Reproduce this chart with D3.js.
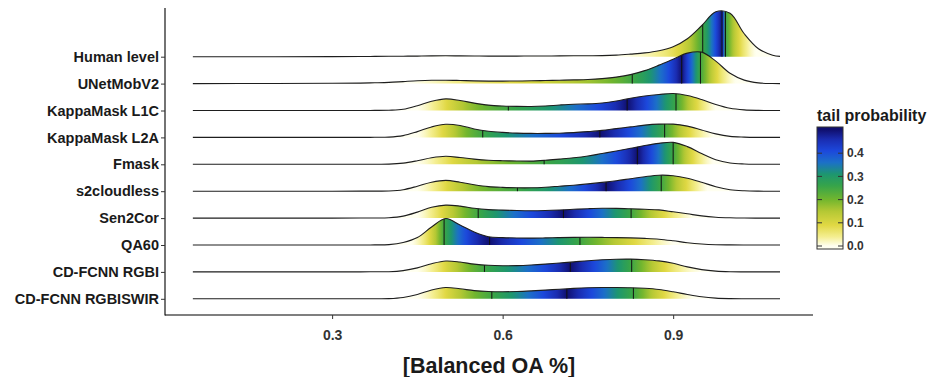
<!DOCTYPE html>
<html>
<head>
<meta charset="utf-8">
<script src="https://cdn.jsdelivr.net/npm/d3@7"></script>
<style>
  body { margin: 0; background: #fff; }
  text { font-family: "Liberation Sans", Arial, sans-serif; font-weight: bold; }
</style>
</head>
<body>
<div id="chart"></div>
<script>
// methods, top to bottom
const methods = ["Human level", "UNetMobV2", "KappaMask L1C", "KappaMask L2A", "Fmask",
    "s2cloudless", "Sen2Cor", "QA60", "CD-FCNN RGBI", "CD-FCNN RGBISWIR"];

const xGrid = [0.055, 0.2, 0.3, 0.35, 0.375, 0.4, 0.425, 0.45, 0.475, 0.5, 0.525, 0.55, 0.575,
    0.6, 0.625, 0.65, 0.675, 0.7, 0.725, 0.75, 0.775, 0.8, 0.825, 0.85, 0.875, 0.9, 0.925,
    0.95, 0.975, 1.0, 1.025, 1.05, 1.075, 1.088];

// density estimates, one array per method
const densHuman = [0,0,0.02,0.04,0.06,0.08,0.1,0.12,0.16,0.18,0.16,0.14,0.12,0.12,0.12,0.14,0.14,0.16,0.18,0.2,0.22,0.32,0.52,0.76,1.2,2.0,3.6,6.2,9.0,8.7,4.6,1.6,0.3,0.06];
const densUNet = [0,0.02,0.06,0.1,0.16,0.24,0.4,0.56,0.66,0.68,0.62,0.54,0.5,0.5,0.52,0.56,0.62,0.68,0.74,0.82,1.0,1.3,1.8,2.6,3.7,4.9,6.1,6.3,4.5,2.06,0.7,0.14,0.02,0];
const densKappaL1C = [0,0,0,0.01,0.02,0.06,0.24,0.96,1.84,2.32,2.0,1.48,1.08,0.9,0.82,0.8,0.9,1.1,1.26,1.32,1.5,1.9,2.46,2.9,3.2,3.4,3.0,2.2,1.2,0.44,0.12,0.02,0,0];
const densKappaL2A = [0,0,0,0.01,0.02,0.06,0.36,1.16,2.1,2.64,2.4,1.7,1.24,1.0,0.86,0.8,0.8,0.84,0.96,1.16,1.4,1.76,2.1,2.46,2.66,2.66,2.26,1.5,0.7,0.2,0.06,0.01,0,0];
const densFmask = [0,0,0,0.01,0.02,0.04,0.24,0.72,1.3,1.6,1.36,1.04,0.82,0.72,0.66,0.64,0.8,1.04,1.3,1.66,2.16,2.66,3.2,3.76,4.2,4.4,3.54,2.16,0.9,0.26,0.06,0.01,0,0];
const densS2c = [0,0,0,0.01,0.02,0.04,0.3,1.0,1.8,2.16,1.8,1.3,0.92,0.76,0.68,0.68,0.8,1.0,1.2,1.46,1.76,2.1,2.5,2.9,3.2,3.1,2.6,1.8,0.9,0.3,0.08,0.01,0,0];
const densSen2Cor = [0,0,0,0.01,0.03,0.08,0.4,1.2,2.16,2.6,2.4,1.96,1.7,1.6,1.52,1.48,1.52,1.62,1.76,1.88,1.96,1.94,1.86,1.76,1.64,1.26,0.86,0.44,0.18,0.06,0.01,0,0,0];
const densQA60 = [0,0,0,0.01,0.02,0.08,0.5,1.5,3.6,5.3,4.0,2.6,1.66,1.48,1.4,1.38,1.42,1.48,1.52,1.54,1.52,1.48,1.42,1.32,1.16,0.84,0.46,0.2,0.06,0.02,0,0,0,0];
const densRGBI = [0,0,0,0.01,0.02,0.04,0.26,0.8,1.64,2.18,1.98,1.56,1.32,1.24,1.26,1.38,1.56,1.78,2.0,2.24,2.42,2.54,2.56,2.44,2.2,1.72,1.0,0.46,0.16,0.04,0.01,0,0,0];
const densRGBISWIR = [0,0,0,0.01,0.02,0.04,0.26,0.86,1.76,2.26,2.0,1.64,1.46,1.42,1.46,1.58,1.74,1.92,2.08,2.2,2.26,2.26,2.22,2.1,1.86,1.4,0.86,0.4,0.14,0.04,0.01,0,0,0];

// sample range and quartiles per method
const dataMin = [0.80, 0.44, 0.45, 0.45, 0.45, 0.45, 0.45, 0.44, 0.45, 0.45];
const q1 = [0.952, 0.828, 0.610, 0.565, 0.673, 0.626, 0.557, 0.497, 0.568, 0.581];
const q2 = [0.986, 0.915, 0.819, 0.771, 0.837, 0.782, 0.707, 0.577, 0.719, 0.713];
const q3 = [0.992, 0.948, 0.905, 0.885, 0.900, 0.879, 0.826, 0.736, 0.827, 0.830];
const dataMax = [1.045, 1.01, 0.975, 0.97, 0.97, 0.96, 0.935, 0.90, 0.95, 0.935];

const xTicks = [0.3, 0.6, 0.9];
const legendTicks = [0, 0.1, 0.2, 0.3, 0.4];

const densities = [densHuman, densUNet, densKappaL1C, densKappaL2A, densFmask,
    densS2c, densSen2Cor, densQA60, densRGBI, densRGBISWIR];

const rows = methods.map((m, i) => ({
    name: m, dens: densities[i], lo: dataMin[i], qs: [q1[i], q2[i], q3[i]], hi: dataMax[i]
}));

const width = 931, height = 377;
const panel = { left: 165, right: 813, top: 8, bottom: 315 };

const x = d3.scaleLinear().domain([0.006, 1.146]).range([panel.left, panel.right]);
const y = d3.scalePoint().domain(methods).range([56.7, 298.8]);
const maxDens = d3.max(densities, d => d3.max(d));
const h = d3.scaleLinear().domain([0, maxDens]).range([0, 1.67 * y.step()]);

const color = d3.scaleLinear()
    .domain([0, 0.04, 0.09, 0.15, 0.2, 0.26, 0.31, 0.36, 0.41, 0.46, 0.5])
    .range(["#fffff0", "#f4ee90", "#e0d843", "#b4c834", "#72b62e", "#36a44a", "#1d9670",
        "#1c70c8", "#1c48dc", "#1a2cb0", "#101070"])
    .clamp(true);

// ecdf anchored on the quartiles, shaped by the density in between
function makeEcdf(r) {
    const n = 800, x0 = xGrid[0], x1 = xGrid[xGrid.length - 1];
    const sx = d3.range(n + 1).map(k => x0 + (x1 - x0) * k / n);
    const dAt = d3.scaleLinear().domain(xGrid).range(r.dens);
    let acc = 0;
    const cum = [0];
    for (let k = 1; k <= n; k++) {
        acc += (dAt(sx[k - 1]) + dAt(sx[k])) / 2 * (sx[k] - sx[k - 1]);
        cum.push(acc);
    }
    const F = d3.scaleLinear().domain(sx).range(cum);
    const anchors = [r.lo, ...r.qs, r.hi], probs = [0, 0.25, 0.5, 0.75, 1];
    return v => {
        if (v <= r.lo) return 0;
        if (v >= r.hi) return 1;
        const i = Math.min(d3.bisectRight(anchors, v) - 1, 3);
        const a = F(anchors[i]), b = F(anchors[i + 1]);
        const t = b > a ? (F(v) - a) / (b - a) : (v - anchors[i]) / (anchors[i + 1] - anchors[i]);
        return probs[i] + (probs[i + 1] - probs[i]) * t;
    };
}

const svg = d3.select("#chart").append("svg")
    .attr("width", width)
    .attr("height", height)
    .style("background", "#fff");

const defs = svg.append("defs");

rows.forEach((r, i) => {
    const ecdf = makeEcdf(r);
    const x0 = xGrid[0], x1 = xGrid[xGrid.length - 1], n = 300;
    const grad = defs.append("linearGradient")
        .attr("id", "grad" + i)
        .attr("gradientUnits", "userSpaceOnUse")
        .attr("x1", x(x0)).attr("x2", x(x1))
        .attr("y1", 0).attr("y2", 0);
    grad.selectAll("stop")
        .data(d3.range(n + 1))
        .join("stop")
        .attr("offset", k => k / n)
        .attr("stop-color", k => {
            const p = ecdf(x0 + (x1 - x0) * k / n);
            return color(0.5 - Math.abs(0.5 - p));
        });
});

const curve = d3.curveCatmullRom.alpha(0.5);

// ridges, top row first so lower ridges overlap the ones above
const ridge = svg.append("g")
    .selectAll("g")
    .data(rows)
    .join("g");

ridge.append("path")
    .attr("fill", (d, i) => `url(#grad${i})`)
    .attr("d", d => d3.area()
        .x((v, k) => x(xGrid[k]))
        .y0(y(d.name))
        .y1(v => y(d.name) - h(v))
        .curve(curve)(d.dens));

const outline = ridge.append("path")
    .attr("fill", "none")
    .attr("stroke", "#1e1e1e")
    .attr("stroke-width", 1.1)
    .attr("d", d => d3.line()
        .x((v, k) => x(xGrid[k]))
        .y(v => y(d.name) - h(v))
        .curve(curve)(d.dens));

// find the ridge top above a given pixel x
function topAt(node, px) {
    let lo = 0, hi = node.getTotalLength();
    for (let it = 0; it < 40; it++) {
        const mid = (lo + hi) / 2;
        if (node.getPointAtLength(mid).x < px) lo = mid; else hi = mid;
    }
    return node.getPointAtLength((lo + hi) / 2).y;
}

outline.each(function(d) {
    const node = this;
    const g = d3.select(this.parentNode);
    d.qs.forEach(q => {
        g.insert("line", function() { return node; })
            .attr("x1", x(q)).attr("x2", x(q))
            .attr("y1", y(d.name))
            .attr("y2", topAt(node, x(q)))
            .attr("stroke", "#111")
            .attr("stroke-width", 1);
    });
});

// axes
svg.append("line")
    .attr("x1", panel.left).attr("x2", panel.left)
    .attr("y1", panel.top).attr("y2", panel.bottom + 0.5)
    .attr("stroke", "#000").attr("stroke-width", 1.1);
svg.append("line")
    .attr("x1", panel.left).attr("x2", panel.right)
    .attr("y1", panel.bottom).attr("y2", panel.bottom)
    .attr("stroke", "#000").attr("stroke-width", 1.1);

const xAxis = svg.append("g")
    .attr("transform", `translate(0,${panel.bottom})`)
    .call(d3.axisBottom(x).tickValues(xTicks).tickFormat(d3.format(".1f")).tickSize(4).tickSizeOuter(0).tickPadding(11));
xAxis.select(".domain").remove();
xAxis.selectAll("line").attr("stroke", "#333");
xAxis.selectAll("text").attr("font-size", 14).attr("fill", "#333")
    .style("font-family", '"Liberation Sans", Arial, sans-serif').style("font-weight", "bold");

const yAxis = svg.append("g")
    .attr("transform", `translate(${panel.left},0)`)
    .call(d3.axisLeft(y).tickSize(4).tickSizeOuter(0).tickPadding(2));
yAxis.select(".domain").remove();
yAxis.selectAll("line").attr("stroke", "#333");
yAxis.selectAll("text").attr("font-size", 14.5).attr("fill", "#1a1a1a")
    .style("font-family", '"Liberation Sans", Arial, sans-serif').style("font-weight", "bold");

svg.append("text")
    .attr("x", (panel.left + panel.right) / 2)
    .attr("y", 373)
    .attr("text-anchor", "middle")
    .attr("font-size", 21.5)
    .attr("fill", "#1a1a1a")
    .text("[Balanced OA %]");

// legend
const lx = 817, lw = 26;
const ly = d3.scaleLinear().domain([0, 0.5]).range([246, 130]);
const lg = defs.append("linearGradient")
    .attr("id", "legendGrad")
    .attr("gradientUnits", "userSpaceOnUse")
    .attr("x1", 0).attr("x2", 0)
    .attr("y1", ly(0)).attr("y2", ly(0.5));
lg.selectAll("stop")
    .data(d3.range(51))
    .join("stop")
    .attr("offset", k => k / 50)
    .attr("stop-color", k => color(k / 100));

const legend = svg.append("g");
legend.append("text")
    .attr("x", lx).attr("y", 121)
    .attr("font-size", 16)
    .attr("fill", "#1a1a1a")
    .text("tail probability");
legend.append("rect")
    .attr("x", lx).attr("y", 127)
    .attr("width", lw).attr("height", 122)
    .attr("fill", "url(#legendGrad)")
    .attr("stroke", "#333").attr("stroke-width", 1);
legend.selectAll(".tk")
    .data(legendTicks)
    .join("g")
    .each(function(t) {
        const g = d3.select(this);
        g.append("line").attr("x1", lx).attr("x2", lx + 5).attr("y1", ly(t)).attr("y2", ly(t))
            .attr("stroke", "#333");
        g.append("line").attr("x1", lx + lw - 5).attr("x2", lx + lw).attr("y1", ly(t)).attr("y2", ly(t))
            .attr("stroke", "#333");
        g.append("text").attr("x", lx + lw + 4).attr("y", ly(t)).attr("dy", "0.35em")
            .attr("font-size", 12).attr("fill", "#333")
            .text(d3.format(".1f")(t));
    });
</script>
</body>
</html>
